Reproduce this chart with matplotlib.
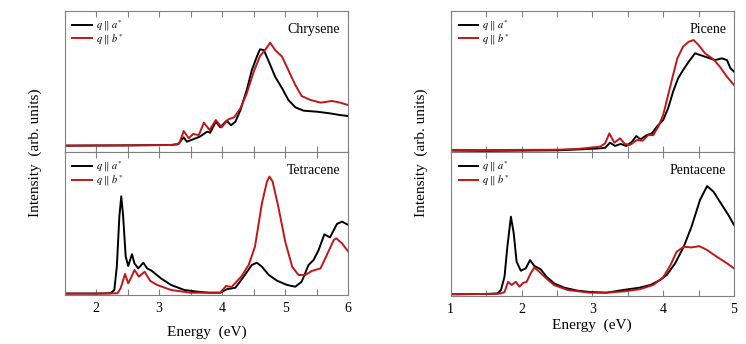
import matplotlib
matplotlib.use('Agg')
import matplotlib.pyplot as plt
from matplotlib.ticker import MultipleLocator

plt.rcParams['font.family'] = ['Liberation Serif', 'DejaVu Serif']
plt.rcParams['mathtext.fontset'] = 'stix'

# Chrysene (left, top)
chry_a_e = [1.5, 2.5, 3.2, 3.30, 3.39, 3.44, 3.54, 3.65, 3.76, 3.81, 3.90, 3.97, 4.07, 4.14, 4.21, 4.29,
            4.39, 4.47, 4.55, 4.60, 4.66, 4.73, 4.84, 4.95, 5.05, 5.16, 5.29, 5.50, 5.71, 5.87, 6.0]
chry_a_i = [0.045, 0.047, 0.05, 0.055, 0.104, 0.073, 0.09, 0.11, 0.144, 0.137, 0.215, 0.175, 0.222, 0.19, 0.215, 0.298,
            0.44, 0.58, 0.676, 0.728, 0.723, 0.652, 0.534, 0.452, 0.369, 0.317, 0.293, 0.286, 0.274, 0.262, 0.255]
chry_b_e = [1.5, 2.5, 3.2, 3.32, 3.39, 3.47, 3.54, 3.63, 3.71, 3.80, 3.90, 3.99, 4.10, 4.19, 4.29, 4.39,
            4.50, 4.60, 4.70, 4.76, 4.84, 4.95, 5.05, 5.16, 5.26, 5.40, 5.56, 5.74, 5.87, 6.0]
chry_b_i = [0.045, 0.047, 0.05, 0.06, 0.149, 0.097, 0.128, 0.12, 0.208, 0.156, 0.227, 0.175, 0.232, 0.246, 0.31, 0.416,
            0.57, 0.68, 0.735, 0.775, 0.723, 0.676, 0.58, 0.475, 0.397, 0.369, 0.35, 0.362, 0.35, 0.333]

# Tetracene (left, bottom)
tetr_a_e = [1.5, 2.0, 2.23, 2.29, 2.33, 2.37, 2.40, 2.43, 2.47, 2.51, 2.54, 2.57, 2.61, 2.67, 2.75, 2.81,
            2.88, 3.03, 3.19, 3.40, 3.61, 3.79, 3.97, 4.07, 4.21, 4.34, 4.47, 4.55, 4.63, 4.74, 4.87, 5.03,
            5.16, 5.26, 5.37, 5.45, 5.53, 5.62, 5.71, 5.82, 5.90, 6.0]
tetr_a_i = [0.01, 0.01, 0.012, 0.035, 0.2, 0.55, 0.69, 0.55, 0.27, 0.203, 0.245, 0.285, 0.22, 0.186, 0.226, 0.186,
            0.17, 0.116, 0.07, 0.035, 0.023, 0.016, 0.016, 0.04, 0.051, 0.128, 0.21, 0.226, 0.198, 0.14, 0.1, 0.07,
            0.058, 0.093, 0.21, 0.245, 0.315, 0.424, 0.403, 0.497, 0.513, 0.49]
tetr_b_e = [1.5, 2.0, 2.34, 2.39, 2.46, 2.51, 2.55, 2.61, 2.68, 2.77, 2.86, 2.97, 3.19, 3.50, 3.97, 4.06,
            4.15, 4.31, 4.42, 4.52, 4.63, 4.71, 4.75, 4.80, 4.89, 5.0, 5.11, 5.21, 5.32, 5.42, 5.56, 5.66,
            5.77, 5.81, 5.90, 6.0]
tetr_b_i = [0.01, 0.01, 0.012, 0.047, 0.147, 0.082, 0.116, 0.175, 0.128, 0.163, 0.098, 0.07, 0.035, 0.016, 0.016, 0.063,
            0.056, 0.133, 0.21, 0.338, 0.641, 0.793, 0.828, 0.793, 0.618, 0.373, 0.198, 0.14, 0.14, 0.168, 0.186, 0.28,
            0.385, 0.396, 0.361, 0.303]

# Picene (right, top)
pice_a_e = [1.0, 1.5, 2.0, 2.5, 2.8, 3.11, 3.18, 3.25, 3.32, 3.40, 3.48, 3.56, 3.62, 3.68, 3.77, 3.84,
            3.91, 4.00, 4.07, 4.14, 4.21, 4.28, 4.36, 4.45, 4.52, 4.62, 4.73, 4.83, 4.90, 4.95, 5.0]
pice_a_i = [0.01, 0.008, 0.01, 0.012, 0.018, 0.026, 0.03, 0.066, 0.043, 0.057, 0.043, 0.073, 0.113, 0.09, 0.12, 0.132,
            0.179, 0.227, 0.31, 0.428, 0.522, 0.58, 0.64, 0.70, 0.688, 0.671, 0.652, 0.664, 0.652, 0.594, 0.57]
pice_b_e = [1.0, 1.5, 2.0, 2.5, 2.8, 3.11, 3.18, 3.24, 3.31, 3.39, 3.46, 3.53, 3.63, 3.71, 3.79, 3.86,
            3.93, 4.00, 4.07, 4.14, 4.20, 4.28, 4.36, 4.43, 4.50, 4.59, 4.71, 4.80, 4.90, 5.0]
pice_b_i = [0.015, 0.014, 0.015, 0.016, 0.022, 0.038, 0.061, 0.132, 0.066, 0.097, 0.057, 0.05, 0.085, 0.08, 0.12, 0.12,
            0.179, 0.262, 0.404, 0.546, 0.664, 0.747, 0.782, 0.794, 0.759, 0.70, 0.657, 0.605, 0.534, 0.475]

# Pentacene (right, bottom)
pent_a_e = [1.0, 1.5, 1.66, 1.71, 1.76, 1.80, 1.85, 1.89, 1.93, 1.99, 2.06, 2.12, 2.18, 2.27, 2.35, 2.46,
            2.60, 2.79, 2.96, 3.20, 3.44, 3.67, 3.82, 3.96, 4.05, 4.17, 4.29, 4.40, 4.52, 4.62, 4.71, 4.83,
            4.92, 5.0]
pent_a_i = [0.01, 0.012, 0.015, 0.04, 0.133, 0.341, 0.55, 0.434, 0.237, 0.174, 0.19, 0.248, 0.207, 0.184, 0.133, 0.086,
            0.056, 0.035, 0.026, 0.021, 0.04, 0.056, 0.075, 0.11, 0.144, 0.226, 0.341, 0.48, 0.666, 0.763, 0.724, 0.631,
            0.562, 0.492]
pent_b_e = [1.0, 1.5, 1.70, 1.76, 1.81, 1.86, 1.92, 1.97, 2.03, 2.07, 2.13, 2.18, 2.25, 2.35, 2.46, 2.65,
            2.96, 3.20, 3.44, 3.67, 3.86, 4.00, 4.10, 4.19, 4.29, 4.40, 4.51, 4.62, 4.76, 4.90, 5.0]
pent_b_i = [0.01, 0.012, 0.015, 0.025, 0.097, 0.075, 0.097, 0.063, 0.091, 0.095, 0.156, 0.196, 0.167, 0.12, 0.074, 0.04,
            0.021, 0.021, 0.03, 0.045, 0.075, 0.128, 0.21, 0.306, 0.341, 0.336, 0.345, 0.318, 0.27, 0.226, 0.19]

labels = [r'$q\ \|\ a^{*}$', r'$q\ \|\ b^{*}$']
RED = '#c0161a'
FRAME = '#808080'

W, H = 746, 344
fig = plt.figure(figsize=(W / 100, H / 100), dpi=100)


def px_axes(x0, x1, ytop, ybot):
    return fig.add_axes([x0 / W, (H - ybot) / H, (x1 - x0) / W, (ybot - ytop) / H])


def style(ax, xlim, name, show_labels):
    ax.set_xlim(*xlim)
    ax.set_ylim(0, 1)
    ax.xaxis.set_major_locator(MultipleLocator(1))
    ax.xaxis.set_minor_locator(MultipleLocator(0.5))
    ax.tick_params(axis='x', which='both', direction='in', top=True, bottom=True,
                   color=FRAME, width=0.8, length=4, labelsize=10, pad=5,
                   labelbottom=show_labels)
    ax.tick_params(axis='y', left=False, labelleft=False)
    for s in ax.spines.values():
        s.set_color(FRAME)
        s.set_linewidth(0.8)
    ax.text(0.972, 0.872, name, transform=ax.transAxes, ha='right', va='center', fontsize=10)
    ax.legend(labels, loc='upper left', bbox_to_anchor=(0.028, 0.95), frameon=False,
              fontsize=7.5, handlelength=1.9, handletextpad=0.35, labelspacing=-0.12, borderpad=0,
              borderaxespad=0)


panels = [
    (px_axes(64.5, 348.3, 11, 152), (1.5, 6), 'Chrysene', chry_a_e, chry_a_i, chry_b_e, chry_b_i, False),
    (px_axes(64.5, 348.3, 152, 295), (1.5, 6), 'Tetracene', tetr_a_e, tetr_a_i, tetr_b_e, tetr_b_i, True),
    (px_axes(450.7, 734, 11, 152), (1, 5), 'Picene', pice_a_e, pice_a_i, pice_b_e, pice_b_i, False),
    (px_axes(450.7, 734, 152, 295.7), (1, 5), 'Pentacene', pent_a_e, pent_a_i, pent_b_e, pent_b_i, True),
]

for ax, xlim, name, ea, ia, eb, ib, show in panels:
    ax.plot(ea, ia, color='black', lw=1.4)
    ax.plot(eb, ib, color=RED, lw=1.4)
    style(ax, xlim, name, show)

fig.text(35 / W, (H - 153) / H, 'Intensity  (arb. units)', rotation=90, ha='center', va='center', fontsize=11)
fig.text(421 / W, (H - 153) / H, 'Intensity  (arb. units)', rotation=90, ha='center', va='center', fontsize=11)
fig.text(206.5 / W, (H - 332) / H, 'Energy  (eV)', ha='center', va='center', fontsize=11)
fig.text(592 / W, (H - 325) / H, 'Energy  (eV)', ha='center', va='center', fontsize=11)

fig.savefig('out.png', dpi=100)
